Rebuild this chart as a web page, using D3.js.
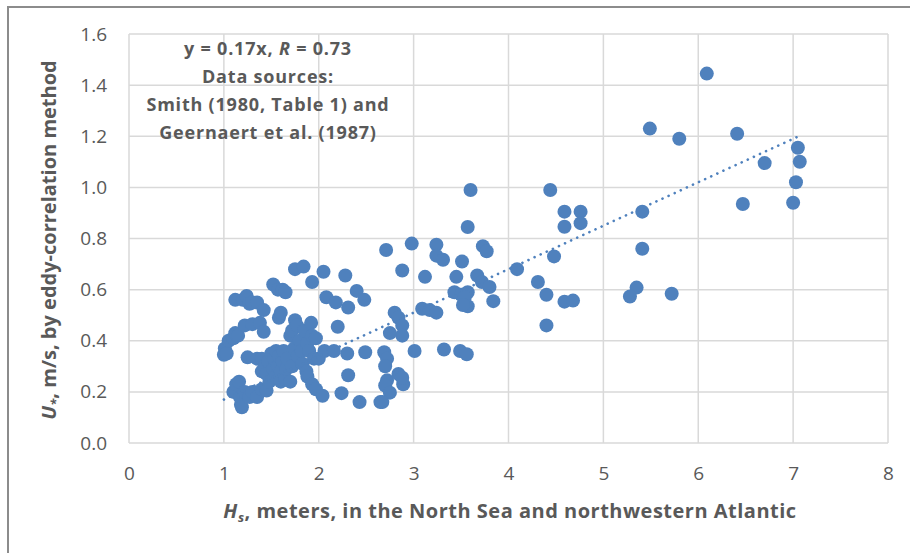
<!DOCTYPE html>
<html>
<head>
<meta charset="utf-8">
<script src="https://cdn.jsdelivr.net/npm/d3@7"></script>
<style>
  html, body { margin: 0; padding: 0; background: #fff; }
  svg { display: block; font-family: "Open Sans", sans-serif; }
</style>
</head>
<body>
<svg id="chart" width="910" height="553"></svg>
<script>
// Significant wave height Hs (m)
const hs = [
  1.01,1.00,1.03,1.05,1.10,1.12,1.15,1.12,1.20,1.24,1.27,1.30,1.35,1.42,1.22,1.30,1.38,1.42,
  1.10,1.13,1.16,1.17,1.18,1.19,1.22,1.27,1.30,1.35,1.40,1.45,1.25,1.35,1.40,1.40,1.43,1.45,
  1.47,1.48,1.50,1.52,1.53,1.55,1.55,1.57,1.58,1.60,1.60,1.62,1.63,1.65,1.66,1.67,1.70,1.70,
  1.72,1.74,1.72,1.75,1.77,1.78,1.80,1.82,1.83,1.85,1.87,1.88,1.90,1.92,1.93,1.95,1.97,2.00,
  1.52,1.57,1.62,1.65,1.58,1.60,1.75,1.84,1.93,2.05,2.08,2.18,2.31,2.28,2.40,2.48,2.20,2.06,
  2.16,2.30,2.49,1.88,1.93,1.97,2.04,2.24,2.31,2.43,2.65,
  2.71,2.98,2.88,2.80,2.84,2.88,2.88,2.75,2.69,2.72,2.70,2.72,2.70,2.84,2.89,2.88,2.75,2.67,
  3.01,3.09,3.17,3.24,3.24,3.24,3.31,3.12,3.32,3.49,3.56,3.51,3.45,3.43,3.50,3.57,3.54,3.57,
  3.52,3.60,3.57,3.73,3.77,3.67,3.72,3.80,3.84,4.09,4.31,4.40,4.40,4.59,4.68,4.48,4.44,4.59,
  4.76,4.59,4.76,5.41,5.41,5.35,5.28,5.72,5.49,5.80,6.41,6.09,7.05,7.07,6.70,7.03,6.47,7.00
];
// Friction velocity U* (m/s), eddy-correlation
const ustar = [
  0.37,0.345,0.35,0.40,0.41,0.43,0.42,0.56,0.56,0.575,0.545,0.55,0.55,0.52,0.46,0.465,0.47,0.435,
  0.20,0.23,0.24,0.18,0.15,0.14,0.20,0.18,0.20,0.18,0.21,0.205,0.335,0.33,0.33,0.28,0.30,0.27,
  0.32,0.24,0.35,0.29,0.33,0.36,0.26,0.30,0.34,0.24,0.28,0.32,0.36,0.25,0.29,0.33,0.24,0.42,
  0.44,0.37,0.30,0.48,0.46,0.34,0.40,0.36,0.31,0.44,0.28,0.39,0.36,0.47,0.42,0.33,0.41,0.33,
  0.62,0.60,0.60,0.59,0.49,0.51,0.68,0.69,0.63,0.67,0.57,0.55,0.53,0.655,0.595,0.56,0.455,0.36,
  0.36,0.35,0.355,0.26,0.23,0.21,0.185,0.195,0.265,0.16,0.16,
  0.755,0.78,0.675,0.51,0.49,0.46,0.42,0.43,0.355,0.33,0.30,0.245,0.225,0.27,0.23,0.255,0.197,0.16,
  0.36,0.525,0.52,0.51,0.776,0.733,0.717,0.65,0.366,0.36,0.347,0.71,0.65,0.59,0.58,0.59,0.57,0.535,
  0.54,0.99,0.845,0.77,0.75,0.655,0.63,0.61,0.555,0.68,0.63,0.58,0.46,0.553,0.557,0.73,0.99,0.905,
  0.905,0.846,0.86,0.905,0.76,0.608,0.573,0.584,1.23,1.19,1.21,1.445,1.155,1.10,1.095,1.02,0.935,0.94
];
const xTicks = [0,1,2,3,4,5,6,7,8];
const yTicks = [0,0.2,0.4,0.6,0.8,1.0,1.2,1.4,1.6];
const slope = 0.17;
const annotation = ["Data sources:", "Smith (1980, Table 1) and", "Geernaert et al. (1987)"];

const svg = d3.select("#chart");
const W = 910, H = 553;
const plot = {left: 129, right: 888, top: 34, bottom: 443};
const grey = "#595959";
const blue = "#4f81bd";

// outer frame
svg.append("rect").attr("x", 8).attr("y", 7).attr("width", W + 20).attr("height", H + 20)
  .attr("fill", "none").attr("stroke", "#8c8c8c").attr("stroke-width", 2);

const x = d3.scaleLinear().domain([0, 8]).range([plot.left, plot.right]);
const y = d3.scaleLinear().domain([0, 1.6]).range([plot.bottom, plot.top]);

// grid
const grid = svg.append("g").attr("stroke", "#d9d9d9").attr("stroke-width", 1.5);
grid.selectAll("line.v").data(xTicks).join("line")
  .attr("x1", d => x(d)).attr("x2", d => x(d)).attr("y1", plot.top).attr("y2", plot.bottom);
grid.selectAll("line.h").data(yTicks).join("line")
  .attr("y1", d => y(d)).attr("y2", d => y(d)).attr("x1", plot.left).attr("x2", plot.right);

// axes (labels only)
const xAxis = svg.append("g").attr("transform", `translate(0,${plot.bottom})`)
  .call(d3.axisBottom(x).tickValues(xTicks).tickFormat(d3.format("d")).tickSize(0).tickPadding(24));
const yAxis = svg.append("g").attr("transform", `translate(${plot.left},0)`)
  .call(d3.axisLeft(y).tickValues(yTicks).tickFormat(d3.format(".1f")).tickSize(0).tickPadding(22));
[xAxis, yAxis].forEach(a => {
  a.select(".domain").remove();
  a.selectAll("text").attr("fill", grey).style("font-size", "19px").style("font-family", "'Open Sans', sans-serif");
});

// points
const data = hs.map((h, i) => ({h, u: ustar[i]}));
svg.append("g").selectAll("circle").data(data).join("circle")
  .attr("cx", d => x(d.h)).attr("cy", d => y(d.u)).attr("r", 7)
  .attr("fill", blue);

// trendline y = 0.17x over data range
const ext = d3.extent(hs);
svg.append("line")
  .attr("x1", x(ext[0])).attr("y1", y(slope * ext[0]))
  .attr("x2", x(ext[1])).attr("y2", y(slope * ext[1]))
  .attr("stroke", blue).attr("stroke-width", 2.6)
  .attr("stroke-linecap", "round").attr("stroke-dasharray", "0.1,6.6");

// annotation
const ann = svg.append("g").attr("fill", grey).attr("font-weight", "bold")
  .style("font-size", "18px").style("letter-spacing", "0.8px").attr("text-anchor", "middle");
const t0 = ann.append("text").attr("x", 268).attr("y", 55);
t0.append("tspan").text("y = 0.17x, ");
t0.append("tspan").attr("font-style", "italic").text("R");
t0.append("tspan").text(" = 0.73");
annotation.forEach((s, i) => ann.append("text").attr("x", 268).attr("y", 83 + i * 28).text(s));

// x axis title
const xt = svg.append("text").attr("x", 510).attr("y", 518).attr("text-anchor", "middle")
  .attr("fill", grey).attr("font-weight", "bold").style("font-size", "20px").style("letter-spacing", "0.5px");
xt.append("tspan").attr("font-style", "italic").text("H");
xt.append("tspan").attr("font-style", "italic").attr("dy", 4).style("font-size", "13px").text("s");
xt.append("tspan").attr("dy", -4).text(", meters, in the North Sea and northwestern Atlantic");

// y axis title
const yt = svg.append("text").attr("transform", "translate(56,240) rotate(-90)").attr("text-anchor", "middle")
  .attr("fill", grey).attr("font-weight", "bold").style("font-size", "20px");
yt.append("tspan").attr("font-style", "italic").text("U");
yt.append("tspan").attr("font-style", "italic").attr("dy", 4).style("font-size", "13px").text("*");
yt.append("tspan").attr("dy", -4).text(", m/s, by eddy-correlation method");
</script>
</body>
</html>
